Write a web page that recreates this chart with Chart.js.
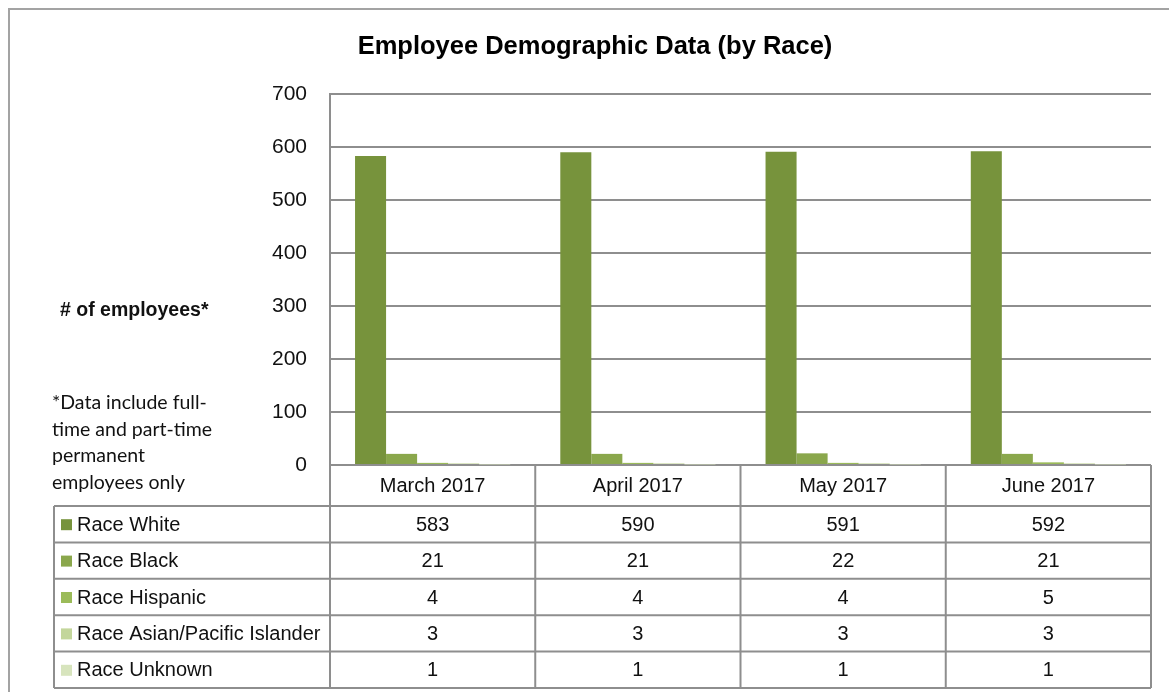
<!DOCTYPE html>
<html>
<head>
<meta charset="utf-8">
<script src="https://cdn.jsdelivr.net/npm/chart.js@4/dist/chart.umd.min.js"></script>
<style>
  html, body { margin: 0; padding: 0; background: #fff; }
  #wrap { position: relative; width: 1169px; height: 692px; overflow: hidden; }
  canvas { display: block; }
</style>
</head>
<body>
<div id="wrap"><canvas id="chart" width="1169" height="692"></canvas></div>
<script>
// Chart data
const months = ["March 2017", "April 2017", "May 2017", "June 2017"];
const raceLabels = ["Race White", "Race Black", "Race Hispanic", "Race Asian/Pacific Islander", "Race Unknown"];
const raceWhite = [583, 590, 591, 592];
const raceBlack = [21, 21, 22, 21];
const raceHispanic = [4, 4, 4, 5];
const raceAsian = [3, 3, 3, 3];
const raceUnknown = [1, 1, 1, 1];
const yTicks = [0, 100, 200, 300, 400, 500, 600, 700];

const raceColors = ["#77933c", "#8aa74c", "#9bbb59", "#c3d69b", "#d7e4bd"];
const LINE = "#8e8e8e";
const TEXT_FONT = "'Liberation Sans', Arial, sans-serif";

const seriesValues = [raceWhite, raceBlack, raceHispanic, raceAsian, raceUnknown];

// Frame, title, side notes and data table below the plot
const tablePlugin = {
  id: "dataTable",
  afterDraw(chart) {
    const ctx = chart.ctx;
    const area = chart.chartArea;
    const colW = (area.right - area.left) / months.length;
    const headTop = area.bottom;
    const headBottom = 506;
    const rowH = 36.4;
    const legendLeft = 54;

    ctx.save();
    // outer frame (runs off the page to the right and bottom)
    ctx.strokeStyle = "#a3a3a3";
    ctx.lineWidth = 2;
    ctx.beginPath();
    ctx.moveTo(9, 700);
    ctx.lineTo(9, 9);
    ctx.lineTo(1180, 9);
    ctx.stroke();

    // title
    ctx.fillStyle = "#000";
    ctx.textAlign = "center";
    ctx.textBaseline = "middle";
    ctx.font = "bold 25.5px " + TEXT_FONT;
    ctx.fillText("Employee Demographic Data (by Race)", 595, 47);

    // table lines
    ctx.strokeStyle = LINE;
    ctx.lineWidth = 2;
    const tableBottom = headBottom + rowH * raceLabels.length;
    ctx.beginPath();
    for (let i = 0; i <= months.length; i++) {
      const x = area.left + i * colW;
      ctx.moveTo(x, headTop);
      ctx.lineTo(x, tableBottom);
    }
    ctx.moveTo(legendLeft, headBottom);
    ctx.lineTo(legendLeft, tableBottom);
    for (let r = 0; r <= raceLabels.length; r++) {
      const y = headBottom + r * rowH;
      ctx.moveTo(legendLeft, y);
      ctx.lineTo(area.right, y);
    }
    ctx.stroke();

    // header
    ctx.fillStyle = "#111";
    ctx.font = "20px " + TEXT_FONT;
    months.forEach((m, i) => {
      ctx.fillText(m, area.left + (i + 0.5) * colW, (headTop + headBottom) / 2 + 1);
    });

    // rows
    raceLabels.forEach((label, r) => {
      const cy = headBottom + (r + 0.5) * rowH + 1;
      ctx.fillStyle = raceColors[r];
      ctx.fillRect(61, cy - 6, 11, 11);
      ctx.fillStyle = "#111";
      ctx.textAlign = "left";
      ctx.fillText(label, 77, cy);
      ctx.textAlign = "center";
      seriesValues[r].forEach((v, i) => {
        ctx.fillText(String(v), area.left + (i + 0.5) * colW, cy);
      });
    });

    // side notes
    ctx.textAlign = "left";
    ctx.font = "bold 19.5px " + TEXT_FONT;
    ctx.fillText("# of employees*", 60, 311);
    ctx.font = "19.5px Lato, sans-serif";
    const note = ["*Data include full-", "time and part-time", "permanent", "employees only"];
    note.forEach((line, i) => ctx.fillText(line, 52, 403 + i * 26.5));
    ctx.restore();
  }
};

const datasets = raceLabels.map((label, i) => ({
  label: label,
  data: seriesValues[i],
  backgroundColor: raceColors[i],
  borderWidth: 0
}));

new Chart(document.getElementById("chart"), {
  type: "bar",
  data: { labels: months, datasets: datasets },
  options: {
    responsive: false,
    animation: false,
    layout: { padding: { left: 270, right: 18, top: 94, bottom: 227 } },
    datasets: { bar: { categoryPercentage: 0.756, barPercentage: 1 } },
    plugins: {
      legend: { display: false },
      tooltip: { enabled: false },
      title: { display: false }
    },
    scales: {
      x: { display: false },
      y: {
        min: 0,
        max: 700,
        afterBuildTicks: (scale) => { scale.ticks = yTicks.map(v => ({ value: v })); },
        afterFit: (scale) => { scale.width = 60; },
        border: { display: true, color: LINE, width: 2 },
        grid: { color: LINE, lineWidth: 2, drawTicks: false },
        ticks: {
          color: "#111",
          padding: 23,
          font: { family: TEXT_FONT, size: 21 }
        }
      }
    }
  },
  plugins: [tablePlugin]
});
</script>
</body>
</html>
